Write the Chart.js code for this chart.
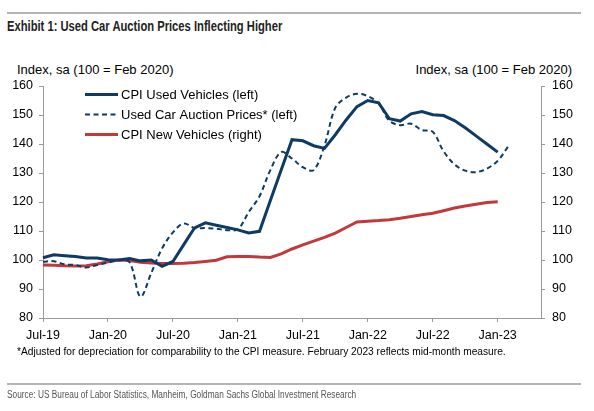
<!DOCTYPE html>
<html>
<head>
<meta charset="utf-8">
<script src="https://cdn.jsdelivr.net/npm/chart.js@4"></script>
<style>
  body { margin: 0; width: 594px; height: 411px; background: #fff; position: relative; overflow: hidden;
         font-family: "Liberation Sans", Arial, sans-serif; }
  canvas { position: absolute; left: 0; top: 0; }
  .rule { position: absolute; left: 7px; width: 574px; height: 2px; background: #b5b5b5; }
  .title { position: absolute; left: 7px; top: 18px; font: bold 14px "Liberation Sans", sans-serif; color: #222;
           white-space: nowrap; transform: scaleX(0.8); transform-origin: left top; }
  .axis-title { position: absolute; top: 62px; font-size: 13px; color: #000; white-space: nowrap; }
  .note { position: absolute; left: 17px; top: 346px; font-size: 10.2px; color: #000; white-space: nowrap; }
  .source { position: absolute; left: 7px; top: 389px; font: 10px "Liberation Sans", sans-serif; color: #555;
            white-space: nowrap; transform: scaleX(0.83); transform-origin: left top; }
</style>
</head>
<body>
<div class="rule" style="top:12px"></div>
<div class="title">Exhibit 1: Used Car Auction Prices Inflecting Higher</div>
<div class="axis-title" style="left:17px">Index, sa (100 = Feb 2020)</div>
<div class="axis-title" style="right:22px">Index, sa (100 = Feb 2020)</div>
<canvas id="chart" width="594" height="411"></canvas>
<div class="note">*Adjusted for depreciation for comparability to the CPI measure. February 2023 reflects mid-month measure.</div>
<div class="rule" style="top:383px"></div>
<div class="source">Source: US Bureau of Labor Statistics, Manheim, Goldman Sachs Global Investment Research</div>

<script>
// monthly categories, Jul-19 .. May-23 (axis runs a few months past the data)
const months = [
  'Jul-19', 'Aug-19', 'Sep-19', 'Oct-19', 'Nov-19', 'Dec-19',
  'Jan-20', 'Feb-20', 'Mar-20', 'Apr-20', 'May-20', 'Jun-20',
  'Jul-20', 'Aug-20', 'Sep-20', 'Oct-20', 'Nov-20', 'Dec-20',
  'Jan-21', 'Feb-21', 'Mar-21', 'Apr-21', 'May-21', 'Jun-21',
  'Jul-21', 'Aug-21', 'Sep-21', 'Oct-21', 'Nov-21', 'Dec-21',
  'Jan-22', 'Feb-22', 'Mar-22', 'Apr-22', 'May-22', 'Jun-22',
  'Jul-22', 'Aug-22', 'Sep-22', 'Oct-22', 'Nov-22', 'Dec-22',
  'Jan-23', 'Feb-23', 'Mar-23', 'Apr-23', 'May-23'
];

// labels shown on the x axis
const tickLabels = ['Jul-19', 'Jan-20', 'Jul-20', 'Jan-21', 'Jul-21', 'Jan-22', 'Jul-22', 'Jan-23'];

// CPI used vehicles, Jul-19 .. Jan-23
const usedCpi = [
  100.8, 101.8, 101.5, 101.2, 100.7, 100.7,
  100.1, 100.0, 100.5, 99.7, 100.0, 97.8,
  99.5, 105.3, 111.1, 112.8, 112.0, 111.2,
  110.4, 109.3, 109.9, 120.5, 131.0, 141.5,
  141.1, 139.4, 138.5, 143.2, 148.3, 152.9,
  155.0, 154.2, 148.7, 147.9, 150.4, 151.2,
  150.1, 149.8, 148.1, 145.6, 142.8, 140.0,
  137.2
];

// used car auction prices (depreciation adjusted), Jul-19 .. Feb-23
const auctionPrices = [
  99.4, 99.6, 98.5, 98.3, 97.4, 98.3,
  99.1, 100.0, 99.2, 87.4, 95.5, 104.0,
  109.5, 112.6, 111.0, 111.0, 110.8, 110.3,
  110.6, 116.5, 122.0, 131.0, 137.2, 135.0,
  132.0, 131.0, 139.5, 152.5, 156.0, 157.3,
  156.5, 154.0, 148.0, 146.5, 147.0, 144.8,
  144.2, 137.5, 133.0, 130.8, 130.3, 131.5,
  134.2, 139.3
];

// CPI new vehicles (right axis), Jul-19 .. Jan-23
const newCpi = [
  98.3, 98.2, 98.0, 97.9, 98.0, 98.6,
  99.4, 100.0, 99.8, 99.2, 99.0, 98.8,
  98.8, 98.9, 99.1, 99.5, 99.9, 101.1,
  101.2, 101.2, 101.0, 100.9, 102.1, 103.8,
  105.2, 106.5, 107.8, 109.3, 111.2, 113.1,
  113.4, 113.6, 113.9, 114.4, 115.0, 115.6,
  116.1, 117.0, 117.9, 118.6, 119.2, 119.8,
  120.1
];

const navy = '#0e3a64';
const red = '#c2393b';
const axisGrey = '#9a9a9a';

Chart.defaults.font.family = '"Liberation Sans", Arial, sans-serif';
Chart.defaults.color = '#000';

// legend drawn inside the plot, upper left
const insideLegend = {
  id: 'insideLegend',
  afterDatasetsDraw(chart) {
    const ctx = chart.ctx;
    chart.data.datasets.forEach((ds, i) => {
      const y = 94.5 + i * 20;
      ctx.save();
      ctx.strokeStyle = ds.borderColor;
      ctx.lineWidth = ds.borderWidth;
      ctx.setLineDash(ds.borderDash || []);
      ctx.beginPath();
      ctx.moveTo(85, y);
      ctx.lineTo(118, y);
      ctx.stroke();
      ctx.setLineDash([]);
      ctx.fillStyle = '#000';
      ctx.font = '13px "Liberation Sans", Arial, sans-serif';
      ctx.textBaseline = 'middle';
      ctx.fillText(ds.label, 121, y + 0.5);
      ctx.restore();
    });
  }
};

const showTick = i => tickLabels.includes(months[i]);

new Chart(document.getElementById('chart'), {
  type: 'line',
  data: {
    labels: months,
    datasets: [
      {
        label: 'CPI Used Vehicles (left)',
        data: usedCpi,
        borderColor: navy,
        borderWidth: 3,
        pointRadius: 0,
        tension: 0,
        yAxisID: 'y'
      },
      {
        label: 'Used Car Auction Prices* (left)',
        data: auctionPrices,
        borderColor: navy,
        borderWidth: 2,
        borderDash: [5, 3.5],
        pointRadius: 0,
        tension: 0.35,
        yAxisID: 'y'
      },
      {
        label: 'CPI New Vehicles (right)',
        data: newCpi,
        borderColor: red,
        borderWidth: 3,
        pointRadius: 0,
        tension: 0,
        yAxisID: 'y1'
      }
    ]
  },
  options: {
    responsive: false,
    devicePixelRatio: 1,
    animation: false,
    layout: { padding: { top: 86, bottom: 65, left: 0, right: 0 } },
    plugins: {
      legend: { display: false },
      tooltip: { enabled: false }
    },
    scales: {
      x: {
        offset: false,
        border: { color: axisGrey, width: 1 },
        grid: {
          drawOnChartArea: false,
          tickLength: 4,
          tickColor: c => showTick(c.index) ? axisGrey : 'rgba(0,0,0,0)'
        },
        ticks: {
          autoSkip: false,
          maxRotation: 0,
          padding: 6,
          font: { size: 12.5 },
          callback: (v, i) => showTick(i) ? months[i] : ''
        },
        afterFit: s => { s.height = 28; }
      },
      y: {
        position: 'left',
        min: 80,
        max: 160,
        border: { color: axisGrey, width: 1 },
        grid: { drawOnChartArea: false, tickLength: 4, tickColor: axisGrey },
        ticks: { stepSize: 10, padding: 6, font: { size: 12.5 } },
        afterFit: s => { s.width = 43; }
      },
      y1: {
        position: 'right',
        min: 80,
        max: 160,
        border: { color: axisGrey, width: 1 },
        grid: { drawOnChartArea: false, tickLength: 4, tickColor: axisGrey },
        ticks: { stepSize: 10, padding: 7, font: { size: 12.5 } },
        afterFit: s => { s.width = 53; }
      }
    }
  },
  plugins: [insideLegend]
});
</script>
</body>
</html>
